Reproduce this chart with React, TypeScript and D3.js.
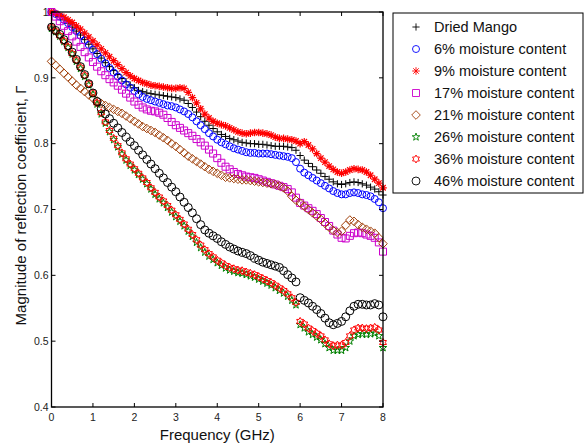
import React from "react";
import * as d3 from "d3";

// Frequency samples (GHz)
const freq: number[] = d3.range(0, 81).map((i) => i / 10);

const seriesNames = [
  "Dried Mango",
  "6% moisture content",
  "9% moisture content",
  "17% moisture content",
  "21% moisture content",
  "26% moisture content",
  "36% moisture content",
  "46% moisture content",
];

const driedMango = [
  1.0, 0.997, 0.993, 0.988, 0.983, 0.977, 0.971, 0.965, 0.958, 0.951,
  0.944, 0.937, 0.93, 0.923, 0.917, 0.911, 0.905, 0.899, 0.894, 0.889,
  0.885, 0.881, 0.879, 0.877, 0.876, 0.875, 0.874, 0.873, 0.872, 0.871,
  0.87, 0.868, 0.866, 0.861, 0.855, 0.848, 0.841, 0.834, 0.828, 0.823,
  0.818, 0.814, 0.811, 0.808, 0.806, 0.804, 0.802, 0.801, 0.8, 0.8,
  0.799, 0.799, 0.798, 0.797, 0.796, 0.796, 0.796, 0.795, 0.794, 0.79,
  0.782, 0.775, 0.77, 0.765, 0.76, 0.755, 0.75, 0.746, 0.742, 0.739,
  0.738, 0.739, 0.741, 0.742, 0.741, 0.739, 0.737, 0.734, 0.731, 0.727,
  0.722,
];

const moisture6 = [
  1.0, 0.997, 0.993, 0.988, 0.983, 0.977, 0.971, 0.964, 0.957, 0.95,
  0.943, 0.936, 0.929, 0.922, 0.915, 0.908, 0.902, 0.896, 0.89, 0.885,
  0.88, 0.875, 0.871, 0.868, 0.866, 0.864, 0.862, 0.86, 0.858, 0.857,
  0.855, 0.852, 0.849, 0.845, 0.84, 0.834, 0.828, 0.822, 0.816, 0.811,
  0.806, 0.802, 0.799, 0.796, 0.793, 0.791, 0.789, 0.787, 0.786, 0.786,
  0.785, 0.785, 0.785, 0.784, 0.783, 0.782, 0.781, 0.78, 0.778, 0.772,
  0.762, 0.756, 0.752, 0.748, 0.744, 0.74, 0.736, 0.732, 0.728, 0.725,
  0.723, 0.723, 0.725, 0.726, 0.725, 0.723, 0.722, 0.72, 0.716, 0.711,
  0.702,
];

const moisture9 = [
  1.0, 0.998, 0.995, 0.992, 0.988, 0.984, 0.979, 0.974, 0.968, 0.962,
  0.956, 0.95, 0.944, 0.938, 0.932, 0.926, 0.92, 0.914, 0.908, 0.903,
  0.899, 0.896, 0.893, 0.891, 0.889, 0.888, 0.887, 0.886, 0.885, 0.884,
  0.884, 0.885, 0.884, 0.878, 0.87, 0.862, 0.853, 0.845, 0.839, 0.834,
  0.831, 0.829, 0.827, 0.824, 0.821, 0.818, 0.816, 0.815, 0.816, 0.817,
  0.817, 0.816, 0.815, 0.813, 0.81, 0.808, 0.808, 0.807, 0.806, 0.804,
  0.8, 0.803, 0.798, 0.792, 0.785, 0.778, 0.772, 0.766, 0.761, 0.757,
  0.755, 0.757, 0.76, 0.762, 0.761, 0.76, 0.757, 0.752, 0.746, 0.74,
  0.733,
];

const moisture17 = [
  1.0, 0.993, 0.986, 0.979, 0.971, 0.963, 0.955, 0.947, 0.939, 0.931,
  0.924, 0.917, 0.91, 0.904, 0.898, 0.893, 0.888, 0.882, 0.876, 0.87,
  0.864, 0.859, 0.855, 0.852, 0.85, 0.849, 0.847, 0.844, 0.839, 0.833,
  0.828, 0.824, 0.82, 0.816, 0.812, 0.807, 0.802, 0.797, 0.791, 0.785,
  0.778, 0.771, 0.765, 0.761, 0.757, 0.754, 0.752, 0.75, 0.749, 0.748,
  0.746, 0.744, 0.742, 0.74, 0.738, 0.736, 0.734, 0.731, 0.726, 0.718,
  0.71, 0.706, 0.702, 0.698, 0.693, 0.687, 0.681, 0.675, 0.668, 0.662,
  0.657, 0.656, 0.66, 0.664, 0.665, 0.664, 0.662, 0.66, 0.657, 0.65,
  0.636,
];

const moisture21 = [
  0.925, 0.919, 0.913, 0.907, 0.901, 0.895, 0.889, 0.884, 0.879, 0.874,
  0.869, 0.865, 0.861, 0.858, 0.855, 0.852, 0.849, 0.846, 0.842, 0.838,
  0.834, 0.83, 0.826, 0.823, 0.82, 0.817, 0.813, 0.809, 0.805, 0.8,
  0.796, 0.791, 0.786, 0.781, 0.777, 0.773, 0.769, 0.765, 0.761, 0.758,
  0.755, 0.752, 0.749, 0.748, 0.747, 0.746, 0.745, 0.745, 0.744, 0.743,
  0.742, 0.741, 0.74, 0.739, 0.738, 0.736, 0.733, 0.728, 0.72, 0.714,
  0.71, 0.705, 0.7, 0.695, 0.69, 0.685, 0.679, 0.673, 0.668, 0.665,
  0.667, 0.676, 0.684, 0.682, 0.677, 0.673, 0.67, 0.667, 0.664, 0.657,
  0.648,
];

const moisture26 = [
  0.975, 0.97, 0.963, 0.955, 0.946, 0.936, 0.925, 0.914, 0.902, 0.889,
  0.875, 0.86, 0.845, 0.831, 0.818, 0.806, 0.795, 0.784, 0.775, 0.767,
  0.76, 0.753, 0.746, 0.739, 0.731, 0.723, 0.716, 0.71, 0.703, 0.696,
  0.689, 0.682, 0.675, 0.667, 0.659, 0.65, 0.642, 0.635, 0.629, 0.624,
  0.619, 0.615, 0.611, 0.608, 0.606, 0.604, 0.603, 0.601, 0.599, 0.597,
  0.594, 0.591, 0.588, 0.585, 0.581, 0.577, 0.573, 0.568, 0.562, 0.555,
  0.525, 0.52, 0.514, 0.51, 0.506, 0.502, 0.496, 0.49, 0.486, 0.486,
  0.486, 0.49, 0.5, 0.508, 0.51, 0.511, 0.51, 0.511, 0.512, 0.508,
  0.49,
];

const moisture36 = [
  0.977, 0.971, 0.964, 0.956, 0.947, 0.937, 0.927, 0.916, 0.904, 0.891,
  0.877, 0.862, 0.847, 0.833, 0.82, 0.808, 0.797, 0.786, 0.777, 0.769,
  0.762, 0.755, 0.748, 0.741, 0.733, 0.726, 0.719, 0.713, 0.706, 0.699,
  0.692, 0.685, 0.678, 0.67, 0.662, 0.654, 0.646, 0.639, 0.633, 0.628,
  0.623, 0.619, 0.615, 0.612, 0.61, 0.608, 0.607, 0.605, 0.603, 0.601,
  0.598, 0.595, 0.592, 0.589, 0.585, 0.581, 0.577, 0.572, 0.566, 0.559,
  0.53, 0.526, 0.52, 0.516, 0.512, 0.508, 0.502, 0.496, 0.493, 0.494,
  0.494, 0.498, 0.508, 0.517, 0.52, 0.52, 0.519, 0.52, 0.521, 0.517,
  0.498,
];

const moisture46 = [
  0.977, 0.972, 0.966, 0.958, 0.949, 0.939, 0.928, 0.917, 0.905, 0.891,
  0.877, 0.864, 0.853, 0.845, 0.838, 0.831, 0.824, 0.817, 0.81, 0.803,
  0.797, 0.79, 0.783, 0.776, 0.769, 0.762, 0.755, 0.748, 0.741, 0.734,
  0.727, 0.719, 0.711, 0.703, 0.695, 0.686, 0.677, 0.669, 0.664, 0.66,
  0.656, 0.651, 0.647, 0.643, 0.64, 0.637, 0.635, 0.633, 0.63, 0.626,
  0.623, 0.62, 0.618, 0.616, 0.614, 0.612, 0.607, 0.601, 0.596, 0.59,
  0.566, 0.562, 0.558, 0.553, 0.548, 0.542, 0.535, 0.528, 0.525, 0.527,
  0.53, 0.537, 0.546, 0.553, 0.556, 0.556, 0.555, 0.555, 0.557, 0.555,
  0.537,
];

const seriesValues = [
  driedMango,
  moisture6,
  moisture9,
  moisture17,
  moisture21,
  moisture26,
  moisture36,
  moisture46,
];

const seriesColors = [
  "#000000",
  "#0000ff",
  "#ff0000",
  "#cc00cc",
  "#a0400a",
  "#008000",
  "#ff0000",
  "#000000",
];

type MarkerKind = "plus" | "circle" | "asterisk" | "square" | "diamond" | "pentagram" | "hexagram" | "bigcircle";
const seriesMarkers: MarkerKind[] = [
  "plus",
  "circle",
  "asterisk",
  "square",
  "diamond",
  "pentagram",
  "hexagram",
  "bigcircle",
];

const xTicks = [0, 1, 2, 3, 4, 5, 6, 7, 8];
const yTicks = [0.4, 0.5, 0.6, 0.7, 0.8, 0.9, 1];

function starPath(cx: number, cy: number, points: number, rOut: number, rIn: number): string {
  const pts: string[] = [];
  for (let i = 0; i < points * 2; i++) {
    const r = i % 2 === 0 ? rOut : rIn;
    const a = -Math.PI / 2 + (i * Math.PI) / points;
    pts.push(`${(cx + r * Math.cos(a)).toFixed(2)},${(cy + r * Math.sin(a)).toFixed(2)}`);
  }
  return "M" + pts.join("L") + "Z";
}

function markerPath(kind: MarkerKind, cx: number, cy: number): string {
  switch (kind) {
    case "plus": {
      const s = 3.6;
      return `M${cx - s},${cy}H${cx + s}M${cx},${cy - s}V${cy + s}`;
    }
    case "asterisk": {
      const s = 3.8;
      const d = s * 0.72;
      return `M${cx - s},${cy}H${cx + s}M${cx},${cy - s}V${cy + s}M${cx - d},${cy - d}L${cx + d},${cy + d}M${cx - d},${cy + d}L${cx + d},${cy - d}`;
    }
    case "circle": {
      const r = 3.5;
      return `M${cx + r},${cy}A${r},${r} 0 1,1 ${cx - r},${cy}A${r},${r} 0 1,1 ${cx + r},${cy}Z`;
    }
    case "bigcircle": {
      const r = 4.0;
      return `M${cx + r},${cy}A${r},${r} 0 1,1 ${cx - r},${cy}A${r},${r} 0 1,1 ${cx + r},${cy}Z`;
    }
    case "square": {
      const s = 3.5;
      return `M${cx - s},${cy - s}H${cx + s}V${cy + s}H${cx - s}Z`;
    }
    case "diamond": {
      const s = 4.3;
      return `M${cx},${cy - s}L${cx + s},${cy}L${cx},${cy + s}L${cx - s},${cy}Z`;
    }
    case "pentagram":
      return starPath(cx, cy, 5, 4.0, 1.6);
    case "hexagram":
      return starPath(cx, cy, 6, 4.0, 2.3);
  }
}

const W = 584;
const H = 443;
const plot = { left: 51.5, right: 383, top: 12, bottom: 407 };

export default function App() {
  const x = d3.scaleLinear().domain([0, 8]).range([plot.left, plot.right]);
  const y = d3.scaleLinear().domain([0.4, 1]).range([plot.bottom, plot.top]);
  const font = "Liberation Sans, Arial, sans-serif";
  const tickLen = 4;

  const legend = { x: 393, y: 13, w: 190, h: 180, step: 22, first: 27, markerX: 416, textX: 434 };

  return (
    <svg
      width={W}
      height={H}
      style={{ position: "absolute", left: 0, top: 0, background: "#fff" }}
      fontFamily={font}
    >
      <rect x={0} y={0} width={W} height={H} fill="#fff" />
      {/* series */}
      {seriesValues.map((vals, si) => {
        const d = vals.map((v, i) => markerPath(seriesMarkers[si], x(freq[i]), y(v))).join("");
        return (
          <path
            key={si}
            d={d}
            fill="none"
            stroke={seriesColors[si]}
            strokeWidth={seriesMarkers[si] === "asterisk" ? 1.2 : 1}
          />
        );
      })}
      {/* axes box */}
      <rect
        x={plot.left}
        y={plot.top}
        width={plot.right - plot.left}
        height={plot.bottom - plot.top}
        fill="none"
        stroke="#000"
        strokeWidth={1.3}
      />
      {/* x ticks */}
      {xTicks.map((t) => (
        <g key={"xt" + t}>
          <line x1={x(t)} x2={x(t)} y1={plot.bottom} y2={plot.bottom - tickLen} stroke="#000" strokeWidth={1} />
          <line x1={x(t)} x2={x(t)} y1={plot.top} y2={plot.top + tickLen} stroke="#000" strokeWidth={1} />
          <text x={x(t)} y={plot.bottom + 14} fontSize={10.5} textAnchor="middle" fill="#222">
            {t}
          </text>
        </g>
      ))}
      {/* y ticks */}
      {yTicks.map((t) => (
        <g key={"yt" + t}>
          <line x1={plot.left} x2={plot.left + tickLen} y1={y(t)} y2={y(t)} stroke="#000" strokeWidth={1} />
          <line x1={plot.right} x2={plot.right - tickLen} y1={y(t)} y2={y(t)} stroke="#000" strokeWidth={1} />
          <text x={plot.left - 3} y={y(t) + 3.8} fontSize={10.5} textAnchor="end" fill="#222">
            {d3.format("")(t)}
          </text>
        </g>
      ))}
      {/* axis labels */}
      <text x={(plot.left + plot.right) / 2} y={440} fontSize={15} textAnchor="middle" fill="#111">
        Frequency (GHz)
      </text>
      <text
        transform={`translate(26,${(plot.top + plot.bottom) / 2 - 4}) rotate(-90)`}
        fontSize={15}
        textAnchor="middle"
        fill="#111"
      >
        Magnitude of reflection coefficient, Γ
      </text>
      {/* legend */}
      <rect x={legend.x} y={legend.y} width={legend.w} height={legend.h} fill="#fff" stroke="#000" strokeWidth={1} />
      {seriesNames.map((name, si) => {
        const cy = legend.first + si * legend.step;
        return (
          <g key={"lg" + si}>
            <path d={markerPath(seriesMarkers[si], legend.markerX, cy)} fill="none" stroke={seriesColors[si]} strokeWidth={0.9} />
            <text x={legend.textX} y={cy + 5} fontSize={14.5} fill="#111">
              {name}
            </text>
          </g>
        );
      })}
    </svg>
  );
}
